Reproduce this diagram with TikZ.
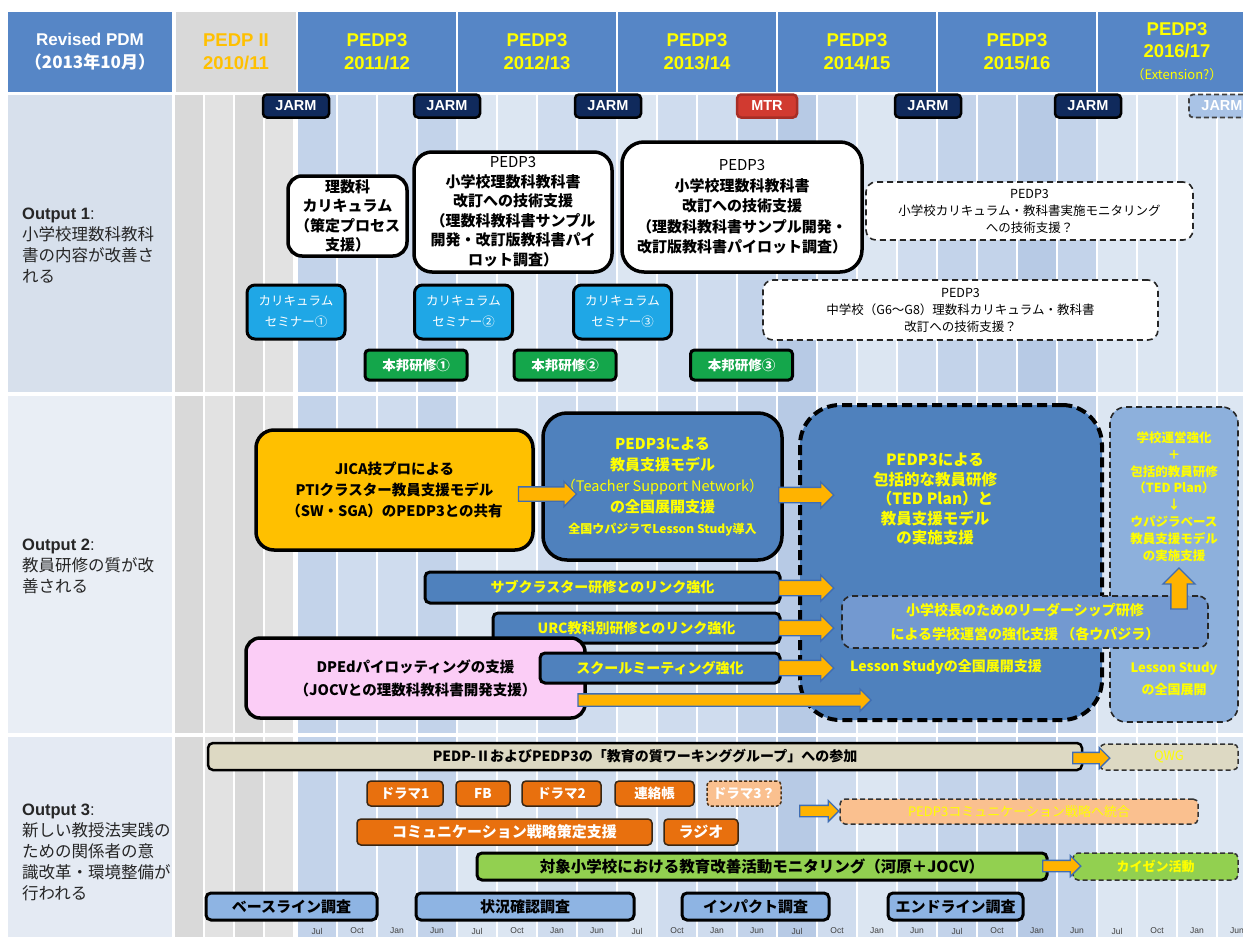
\documentclass[tikz,border=0pt]{standalone}
\usepackage{fontspec}
\setmainfont{Noto Sans CJK JP}
\newfontfamily\lat{Liberation Sans}
\usetikzlibrary{shapes.arrows}

\newcommand\fsz[2]{\fontsize{#1}{#2}\selectfont}

\definecolor{hdr}{HTML}{5686C6}
\definecolor{hyel}{HTML}{FFFF00}
\definecolor{horg}{HTML}{FFC000}
\definecolor{navy}{HTML}{102A5C}
\definecolor{mtrred}{HTML}{D13A30}
\definecolor{seminar}{HTML}{1FA7E6}
\definecolor{honpo}{HTML}{14A64B}
\definecolor{midblue}{HTML}{4F81BD}
\definecolor{paleblue}{HTML}{8DB0DC}
\definecolor{leadblue}{HTML}{7399D0}
\definecolor{jicaorg}{HTML}{FFC000}
\definecolor{dpedpink}{HTML}{FBCDF6}
\definecolor{beige}{HTML}{DDD9C3}
\definecolor{orng}{HTML}{E8700E}
\definecolor{lorng}{HTML}{FAC08F}
\definecolor{lgreen}{HTML}{92D050}
\definecolor{survey}{HTML}{8EB4E3}
\definecolor{arrf}{HTML}{FFB300}
\definecolor{arrd}{HTML}{3F6DB3}
\definecolor{jarmlt}{HTML}{A9C3E6}
\definecolor{sA}{HTML}{DCE6F2}
\definecolor{sB}{HTML}{CFDCEE}
\definecolor{sC}{HTML}{C3D3EA}
\definecolor{sD}{HTML}{B7CAE5}
\definecolor{gA}{HTML}{D9D9D9}
\definecolor{gB}{HTML}{E2E2E2}
\definecolor{pan1}{HTML}{D7E0EC}
\definecolor{pan2}{HTML}{E9EEF5}
\definecolor{pan3}{HTML}{E4EAF3}

\begin{document}
\begin{tikzpicture}[x=1pt,y=-1pt,
  hcell/.style={fill=hdr, minimum height=80pt, inner sep=0pt, align=center,
    text=hyel, font=\lat\bfseries\fsz{18.5}{23}},
  jarm/.style={fill=navy, draw=black, line width=2.5pt, rounded corners=4pt,
    minimum width=66pt, minimum height=23pt, inner sep=0pt, text=white,
    font=\lat\bfseries\fsz{14.5}{16}},
  lbl/.style={align=left, inner sep=0pt, anchor=west, text=black!85, font=\fsz{16.5}{21}},
  wbox/.style={fill=white, draw=black, line width=3.5pt, rounded corners=14pt,
    align=center, inner sep=0pt, font=\bfseries\fsz{15}{19.5}},
  dbox/.style={fill=white, draw=black!85, line width=1.6pt, dash pattern=on 6pt off 4pt,
    rounded corners=10pt, align=center, inner sep=0pt, font=\fsz{12.5}{17}},
  sem/.style={fill=seminar, draw=black, line width=3pt, rounded corners=8pt,
    minimum width=98pt, minimum height=54pt, align=center, inner sep=0pt,
    text=white, font=\fsz{12.5}{21}},
  hon/.style={fill=honpo, draw=black, line width=3pt, rounded corners=4pt,
    minimum width=102pt, minimum height=30pt, inner sep=0pt, text=white,
    font=\bfseries\fsz{13.5}{16}},
  bluebox/.style={fill=midblue, draw=black, line width=3.5pt, rounded corners=24pt,
    align=center, inner sep=0pt, text=hyel, font=\bfseries\fsz{15}{21}},
  bar/.style={fill=midblue, draw=black, line width=3pt, rounded corners=5pt,
    inner sep=0pt, text=hyel, font=\bfseries\fsz{14}{16}},
  ytxt/.style={align=center, inner sep=0pt, text=hyel, font=\bfseries\fsz{15.5}{19.5}},
  barrow/.style={single arrow, fill=arrf, draw=arrd, line width=1.3pt, inner xsep=0pt,
    single arrow head indent=0pt, single arrow tip angle=90},
  obox/.style={fill=orng, draw=black!70!brown, line width=1.5pt, rounded corners=4pt,
    minimum height=25pt, inner sep=0pt, text=white, font=\bfseries\fsz{13.5}{16}},
  lbox/.style={draw=black!80, line width=1.5pt, dash pattern=on 5pt off 3pt,
    rounded corners=5pt, inner sep=0pt, text=hyel, font=\fsz{13}{16}},
  sbar/.style={draw=black, line width=3pt, rounded corners=5pt, minimum height=27pt,
    inner sep=0pt, text=black, font=\bfseries\fsz{15}{16}},
  axis/.style={inner sep=0pt, text=black!75, font=\lat\fsz{8.5}{10}}
]
\useasboundingbox (0,0) rectangle (1243,937);
\clip (0,0) rectangle (1243,937);

% ---------- row backgrounds with quarterly stripes ----------
\foreach \ya/\yb/\pn in {95/392/pan1, 396/733/pan2, 737/937/pan3}{
  \fill[\pn] (8,\ya) rectangle (172,\yb);
  \foreach \g [count=\k from 0] in {gA,gB,gA,gB}{
    \fill[\g] ({175+30*\k},\ya) rectangle ({203+30*\k},\yb);
  }
  \foreach \c [count=\k from 0] in {sC,sB,sB,sC,sA,sA,sB,sB,sA,sB,sB,sC,
                                      sD,sB,sA,sB,sC,sC,sD,sC,sA,sA,sA,sA}{
    \fill[\c] ({298+40*\k},\ya) rectangle ({336+40*\k},\yb);
  }
}

% ---------- header ----------
\node[hcell, text=white, minimum width=164pt, font=\bfseries\fsz{17}{23}] (hpdm) at (90,52)
  {{\lat Revised PDM}\\（2013年10月）};
\node[hcell, fill=gA, text=horg, minimum width=120pt] (hp2) at (236,52) {PEDP II\\2010/11};
\node[hcell, minimum width=158pt] (hy1) at (377,52) {PEDP3\\2011/12};
\node[hcell, minimum width=158pt] (hy2) at (537,52) {PEDP3\\2012/13};
\node[hcell, minimum width=158pt] (hy3) at (697,52) {PEDP3\\2013/14};
\node[hcell, minimum width=158pt] (hy4) at (857,52) {PEDP3\\2014/15};
\node[hcell, minimum width=158pt] (hy5) at (1017,52) {PEDP3\\2015/16};
\node[hcell, minimum width=158pt, font=\lat\bfseries\fsz{18.5}{22}] (hy6) at (1177,52)
  {PEDP3\\2016/17\\{\normalfont\fsz{13}{22}（Extension?）}};

% ---------- review missions ----------
\node[jarm] (j1) at (296,106) {JARM};
\node[jarm] (j2) at (447,106) {JARM};
\node[jarm] (j3) at (608,106) {JARM};
\node[jarm, fill=mtrred, draw=mtrred!80!black, minimum width=60pt] (mtr) at (767,106) {MTR};
\node[jarm] (j4) at (928,106) {JARM};
\node[jarm] (j5) at (1088,106) {JARM};
\node[jarm, fill=jarmlt, draw=black!75, line width=1.8pt, dash pattern=on 5pt off 3pt] (j6) at (1222,106) {JARM};

% ---------- row labels ----------
\node[lbl] (out1) at (22,246) {{\lat\bfseries Output 1}{\lat :}\\小学校理数科教科\\書の内容が改善さ\\れる};
\node[lbl] (out2) at (22,566) {{\lat\bfseries Output 2}{\lat :}\\教員研修の質が改\\善される};
\node[lbl] (out3) at (22,852) {{\lat\bfseries Output 3}{\lat :}\\新しい教授法実践の\\ための関係者の意\\識改革・環境整備が\\行われる};

% ---------- Output 1 ----------
\node[wbox, minimum width=119pt, minimum height=80pt] (cur) at (347.5,216)
  {理数科\\カリキュラム\\（策定プロセス\\支援）};
\node[wbox, minimum width=198pt, minimum height=120pt, rounded corners=18pt] (tb1) at (513,212)
  {{\mdseries PEDP3}\\小学校理数科教科書\\改訂への技術支援\\（理数科教科書サンプル\\開発・改訂版教科書パイ\\ロット調査）};
\node[wbox, minimum width=240pt, minimum height=130pt, rounded corners=22pt, font=\bfseries\fsz{15}{20.5}] (tb2) at (742,207)
  {{\mdseries PEDP3}\\小学校理数科教科書\\改訂への技術支援\\（理数科教科書サンプル開発・\\改訂版教科書パイロット調査）};
\node[dbox, minimum width=327pt, minimum height=58pt] (mon) at (1029.5,211)
  {PEDP3\\小学校カリキュラム・教科書実施モニタリング\\への技術支援？};
\node[dbox, minimum width=395pt, minimum height=60pt] (jhs) at (960.5,310)
  {PEDP3\\中学校（G6～G8）理数科カリキュラム・教科書\\改訂への技術支援？};
\node[sem] (sem1) at (296,312) {カリキュラム\\セミナー①};
\node[sem] (sem2) at (463.5,312) {カリキュラム\\セミナー②};
\node[sem] (sem3) at (622.5,312) {カリキュラム\\セミナー③};
\node[hon] (hon1) at (416,365) {本邦研修①};
\node[hon] (hon2) at (565,365) {本邦研修②};
\node[hon] (hon3) at (741.5,365) {本邦研修③};

% ---------- Output 2 ----------
\node[draw=black, line width=4pt, dash pattern=on 10pt off 5pt, fill=midblue,
  rounded corners=40pt, minimum width=302pt, minimum height=315pt] (ted) at (951,562.5) {};
\node[draw=black!85, line width=1.6pt, dash pattern=on 6pt off 4pt, fill=paleblue,
  rounded corners=16pt, minimum width=128pt, minimum height=315pt] (rbox) at (1174,564.5) {};
\node[draw=black!85, line width=1.6pt, dash pattern=on 6pt off 4pt, fill=leadblue,
  rounded corners=10pt, minimum width=366pt, minimum height=52pt, align=center,
  inner sep=0pt, text=hyel, font=\bfseries\fsz{14}{24}] (lead) at (1025,622)
  {小学校長のためのリーダーシップ研修\\による学校運営の強化支援 （各ウパジラ）};
\node[ytxt] (tedtxt) at (935,499)
  {PEDP3による\\包括的な教員研修\\（TED Plan）と\\教員支援モデル\\の実施支援};
\node[ytxt, font=\bfseries\fsz{12.5}{16.8}] (rtxt) at (1174,496.5)
  {学校運営強化\\＋\\包括的教員研修\\（TED Plan）\\↓\\ウパジラベース\\教員支援モデル\\の実施支援};
\node[ytxt, font=\bfseries\fsz{13}{22}] (rls) at (1174,679) {Lesson Study\\の全国展開};
\node[inner sep=0pt, anchor=west, text=hyel, font=\bfseries\fsz{14}{16}] (lstxt) at (850,667)
  {Lesson Studyの全国展開支援};

\node[fill=jicaorg, draw=black, line width=3.5pt, rounded corners=18pt, minimum width=277pt,
  minimum height=120pt, align=center, inner sep=0pt, font=\bfseries\fsz{14.5}{21}] (jica) at (394.5,490)
  {JICA技プロによる\\PTIクラスター教員支援モデル\\（SW・SGA）のPEDP3との共有};
\node[bluebox, minimum width=239pt, minimum height=147pt] (tsn) at (662.5,486.5)
  {PEDP3による\\教員支援モデル\\{\mdseries\fsz{14.5}{21}（Teacher Support Network）}\\の全国展開支援\\{\fsz{12}{19}全国ウパジラでLesson Study導入}};
\node[bar, minimum width=355pt, minimum height=31pt] (sub1) at (602.5,587.5) {サブクラスター研修とのリンク強化};
\node[bar, minimum width=287pt, minimum height=30pt] (sub2) at (636.5,628) {URC教科別研修とのリンク強化};
\node[fill=dpedpink, draw=black, line width=3.5pt, rounded corners=14pt, minimum width=339pt,
  minimum height=80pt, align=center, inner sep=0pt, xshift=-7pt, font=\bfseries\fsz{14.5}{23}] (dped) at (422.5,678)
  {DPEdパイロッティングの支援\\（JOCVとの理数科教科書開発支援）};
\node[bar, minimum width=240pt, minimum height=30pt] (sub3) at (660,668) {スクールミーティング強化};

\node[barrow, minimum height=58pt, inner ysep=6.5pt, single arrow head extend=5.5pt] (ar1) at (544,494) {};
\node[barrow, minimum height=55pt, inner ysep=7pt, single arrow head extend=5.5pt] (ar2) at (802.5,495) {};
\node[barrow, minimum height=55pt, inner ysep=7pt, single arrow head extend=5.5pt] (ar3) at (802.5,588) {};
\node[barrow, minimum height=55pt, inner ysep=7pt, single arrow head extend=5.5pt] (ar4) at (802.5,628) {};
\node[barrow, minimum height=55pt, inner ysep=7pt, single arrow head extend=5.5pt] (ar5) at (802.5,668) {};
\node[barrow, minimum height=293pt, inner ysep=5.5pt, single arrow head extend=5pt] (ar6) at (721.5,700) {};
\node[barrow, rotate=90, minimum height=41pt, inner ysep=7.5pt, single arrow head extend=8pt] (arup) at (1179,592.5) {};

% ---------- Output 3 ----------
\node[sbar, fill=beige, line width=2.5pt, minimum width=874pt, font=\bfseries\fsz{14}{16}] (qwg) at (645,756.5)
  {PEDP-ⅡおよびPEDP3の「教育の質ワーキンググループ」への参加};
\node[lbox, fill=beige, minimum width=138pt, minimum height=26pt] (qwg2) at (1169,757) {QWG};
\node[obox, minimum width=76pt] (dr1) at (405,793.5) {ドラマ1};
\node[obox, minimum width=54pt] (fb) at (483,793.5) {FB};
\node[obox, minimum width=79pt] (dr2) at (561.5,793.5) {ドラマ2};
\node[obox, minimum width=79pt] (ren) at (654.5,793.5) {連絡帳};
\node[obox, fill=lorng, draw=black!60!brown, dash pattern=on 3pt off 2pt, minimum width=74pt] (dr3) at (744,793.5) {ドラマ3？};
\node[obox, minimum width=295pt, minimum height=26pt, font=\bfseries\fsz{15}{16}] (com) at (504.5,832) {コミュニケーション戦略策定支援};
\node[obox, minimum width=74pt, minimum height=26pt, font=\bfseries\fsz{15}{16}] (radio) at (701,832) {ラジオ};
\node[lbox, fill=lorng, minimum width=358pt, minimum height=25pt] (comint) at (1019,811.5) {PEDP3コミュニケーション戦略へ統合};
\node[sbar, fill=lgreen, minimum width=570pt, font=\bfseries\fsz{15.5}{16}] (mon2) at (762,866.5)
  {対象小学校における教育改善活動モニタリング（河原＋JOCV）};
\node[lbox, fill=lgreen, minimum width=165pt, minimum height=27pt, font=\bfseries\fsz{13}{16}] (kaizen) at (1155.5,866.5) {カイゼン活動};
\node[sbar, fill=survey, minimum width=171pt] (sv1) at (291.5,906.5) {ベースライン調査};
\node[sbar, fill=survey, minimum width=218pt] (sv2) at (525,906.5) {状況確認調査};
\node[sbar, fill=survey, minimum width=147pt] (sv3) at (755.5,906.5) {インパクト調査};
\node[sbar, fill=survey, minimum width=135pt] (sv4) at (955.5,906.5) {エンドライン調査};

\node[barrow, minimum height=37pt, inner ysep=5pt, single arrow head extend=5pt] (ar7) at (1088.5,758) {};
\node[barrow, minimum height=39pt, inner ysep=5pt, single arrow head extend=5pt] (ar8) at (816.5,811) {};
\node[barrow, minimum height=38pt, inner ysep=5pt, single arrow head extend=5pt] (ar9) at (1059,866) {};

% ---------- quarter axis ----------
\foreach \m [count=\k from 0] in {Jul,Oct,Jan,Jun,Jul,Oct,Jan,Jun,Jul,Oct,Jan,Jun,
                                   Jul,Oct,Jan,Jun,Jul,Oct,Jan,Jun,Jul,Oct,Jan,Jun}{
  \node[axis] (ax\k) at ({317+40*\k},931) {\m};
}
\end{tikzpicture}
\end{document}
